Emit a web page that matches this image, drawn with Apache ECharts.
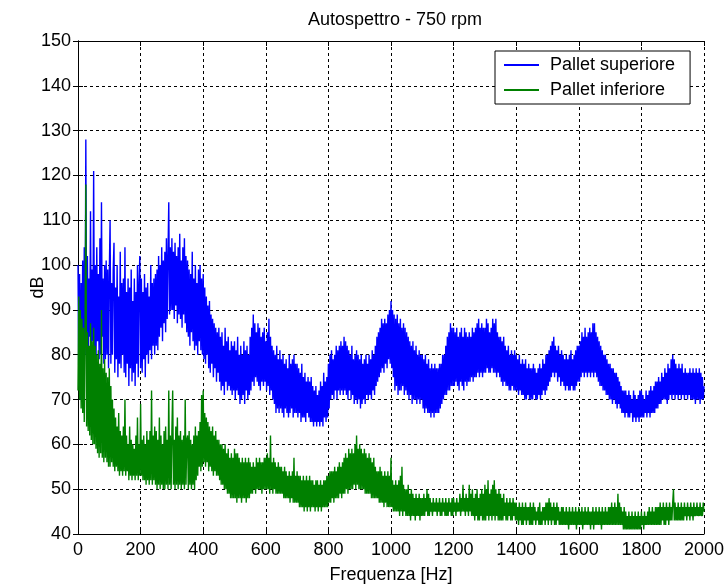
<!DOCTYPE html>
<html>
<head>
<meta charset="utf-8">
<script src="https://cdn.jsdelivr.net/npm/echarts@6/dist/echarts.min.js"></script>
<style>
  html, body { margin: 0; padding: 0; background: #fff; }
  #chart { width: 725px; height: 587px; }
</style>
</head>
<body>
<div id="chart"></div>
<script>
// Spectrum sampled every 2.5 Hz, 0..2000 Hz (one row = 50 Hz)
const freqStep = 2.5;

// Pallet superiore (dB)
const superiore = [
  100, 74, 98, 70, 96, 78, 101, 76, 104, 80, 128, 82, 102, 79, 97, 84, 112, 80, 99, 83,
  121, 81, 100, 78, 104, 83, 98, 79, 106, 80, 114, 84, 97, 78, 100, 79, 101, 80, 99, 77,
  98, 110, 78, 96, 80, 99, 105, 76, 95, 79, 100, 75, 93, 78, 103, 77, 96, 80, 97, 76,
  104, 75, 94, 78, 97, 73, 95, 77, 99, 74, 92, 76, 97, 73, 94, 78, 100, 75, 96, 102,
  77, 97, 76, 94, 79, 98, 75, 95, 80, 96, 78, 93, 81, 100, 79, 96, 82, 97, 80, 98,
  82, 99, 81, 102, 84, 100, 86, 104, 83, 101, 87, 103, 85, 106, 88, 102, 114, 89, 104, 90,
  106, 90, 103, 88, 105, 91, 102, 87, 104, 89, 107, 88, 101, 86, 104, 89, 106, 87, 102, 85,
  101, 84, 99, 82, 98, 85, 103, 83, 97, 81, 100, 82, 96, 80, 99, 83, 100, 81, 97, 80,
  98, 79, 95, 78, 93, 80, 91, 77, 92, 76, 89, 78, 88, 75, 87, 77, 86, 74, 85, 76,
  86, 74, 84, 72, 85, 73, 82, 71, 86, 74, 83, 72, 84, 73, 81, 72, 83, 71, 82, 72,
  83, 70, 81, 72, 84, 71, 80, 69, 82, 70, 80, 71, 83, 69, 81, 72, 82, 70, 80, 71,
  84, 72, 86, 74, 89, 73, 87, 75, 85, 74, 87, 73, 86, 72, 84, 74, 85, 73, 86, 74,
  83, 72, 85, 73, 88, 71, 84, 72, 82, 70, 81, 69, 80, 67, 82, 68, 79, 67, 81, 68,
  79, 67, 80, 66, 78, 68, 79, 67, 77, 66, 80, 67, 78, 68, 79, 66, 80, 67, 78, 67,
  78, 66, 77, 67, 76, 65, 78, 66, 75, 66, 76, 65, 74, 67, 75, 66, 74, 65, 75, 65,
  73, 64, 72, 65, 73, 64, 71, 65, 72, 64, 74, 65, 73, 64, 76, 66, 74, 65, 75, 66,
  78, 68, 80, 70, 81, 71, 79, 70, 80, 72, 82, 70, 81, 72, 82, 71, 83, 72, 82, 71,
  84, 72, 83, 71, 82, 70, 81, 72, 80, 70, 82, 71, 79, 69, 80, 70, 81, 69, 80, 70,
  79, 68, 80, 69, 78, 70, 79, 69, 80, 71, 78, 70, 80, 71, 79, 70, 81, 72, 80, 71,
  82, 73, 84, 74, 85, 75, 86, 76, 88, 77, 87, 76, 88, 78, 87, 77, 89, 79, 90, 78,
  92, 77, 90, 75, 89, 72, 88, 73, 89, 71, 87, 72, 88, 72, 86, 73, 87, 71, 86, 72,
  85, 71, 84, 70, 83, 71, 82, 69, 83, 70, 81, 70, 82, 69, 80, 70, 81, 69, 80, 70,
  80, 68, 79, 67, 80, 68, 78, 67, 79, 67, 77, 66, 78, 67, 77, 66, 78, 67, 77, 67,
  77, 67, 78, 68, 78, 69, 80, 70, 80, 71, 82, 71, 84, 72, 85, 72, 87, 73, 86, 73,
  86, 73, 85, 74, 86, 73, 84, 72, 85, 74, 86, 73, 84, 72, 86, 74, 85, 73, 84, 74,
  85, 74, 84, 75, 86, 74, 85, 75, 86, 75, 87, 76, 88, 75, 86, 76, 87, 75, 86, 76,
  86, 76, 88, 77, 87, 76, 85, 76, 86, 77, 88, 76, 87, 76, 88, 75, 85, 76, 84, 75,
  84, 74, 83, 73, 84, 74, 82, 73, 81, 73, 82, 72, 80, 72, 81, 73, 80, 72, 81, 72,
  80, 72, 79, 71, 80, 72, 78, 71, 79, 71, 78, 70, 79, 70, 77, 71, 78, 70, 77, 70,
  77, 70, 78, 71, 77, 70, 76, 70, 77, 71, 78, 70, 77, 71, 79, 72, 78, 71, 80, 72,
  80, 73, 81, 74, 82, 75, 83, 76, 84, 75, 82, 76, 81, 74, 82, 75, 80, 73, 81, 74,
  80, 73, 79, 72, 80, 73, 79, 72, 80, 72, 81, 73, 79, 72, 80, 72, 81, 73, 82, 74,
  82, 74, 83, 75, 85, 76, 84, 75, 86, 76, 84, 75, 85, 76, 86, 75, 85, 76, 87, 75,
  87, 76, 85, 75, 84, 74, 83, 73, 82, 73, 81, 72, 80, 72, 80, 71, 79, 71, 78, 70,
  78, 70, 77, 69, 77, 70, 76, 69, 76, 68, 75, 69, 74, 68, 73, 67, 72, 67, 72, 66,
  72, 67, 71, 66, 72, 66, 71, 67, 70, 65, 72, 66, 71, 65, 70, 66, 71, 65, 72, 66,
  72, 66, 71, 66, 70, 67, 72, 66, 71, 67, 72, 66, 73, 67, 72, 67, 73, 67, 74, 68,
  74, 68, 75, 69, 74, 69, 76, 70, 75, 70, 77, 70, 76, 69, 78, 70, 77, 71, 79, 70,
  80, 71, 79, 70, 78, 71, 77, 70, 78, 71, 77, 70, 78, 71, 76, 70, 77, 71, 76, 70,
  76, 71, 77, 70, 76, 70, 77, 70, 76, 69, 77, 70, 76, 70, 77, 69, 76, 70, 75, 70,
  73
];

// Pallet inferiore (dB)
const inferiore = [
  72, 93, 70, 90, 68, 88, 67, 86, 65, 84, 118, 64, 85, 63, 82, 62, 87, 61, 83, 60,
  86, 60, 82, 59, 80, 58, 81, 57, 78, 58, 90, 57, 77, 56, 79, 57, 76, 56, 75, 55,
  77, 55, 73, 56, 70, 55, 68, 54, 66, 55, 64, 54, 67, 53, 63, 54, 62, 53, 64, 54,
  70, 53, 62, 54, 60, 52, 64, 53, 61, 52, 60, 53, 59, 52, 62, 53, 66, 52, 60, 53,
  69, 53, 61, 52, 62, 52, 60, 51, 63, 52, 61, 51, 63, 52, 72, 51, 62, 52, 64, 51,
  63, 50, 61, 51, 66, 50, 62, 51, 60, 50, 63, 50, 64, 51, 61, 50, 72, 51, 62, 50,
  63, 72, 51, 61, 50, 64, 51, 66, 50, 62, 51, 63, 50, 61, 51, 62, 50, 70, 51, 61,
  62, 50, 63, 51, 61, 50, 60, 51, 62, 50, 64, 52, 62, 53, 63, 55, 65, 54, 71, 55,
  72, 56, 67, 55, 66, 56, 65, 54, 64, 55, 63, 54, 64, 53, 62, 54, 63, 53, 61, 53,
  61, 52, 60, 51, 60, 51, 59, 50, 60, 50, 58, 49, 59, 49, 57, 48, 58, 48, 57, 48,
  59, 48, 58, 47, 58, 48, 57, 48, 56, 47, 57, 48, 56, 48, 57, 47, 56, 48, 57, 48,
  56, 49, 55, 49, 56, 50, 55, 49, 57, 50, 56, 50, 57, 50, 56, 49, 56, 50, 57, 50,
  57, 50, 58, 50, 57, 49, 62, 50, 56, 49, 57, 50, 56, 49, 55, 49, 56, 49, 55, 49,
  55, 49, 54, 48, 55, 48, 54, 48, 53, 48, 54, 47, 53, 48, 54, 47, 57, 47, 53, 47,
  54, 47, 53, 46, 53, 46, 52, 46, 53, 45, 52, 46, 53, 45, 52, 46, 53, 45, 52, 46,
  52, 46, 51, 45, 52, 46, 52, 45, 51, 46, 52, 45, 51, 46, 52, 46, 52, 46, 53, 46,
  53, 47, 54, 47, 54, 48, 54, 47, 55, 48, 54, 48, 55, 48, 56, 49, 55, 48, 56, 49,
  57, 49, 58, 50, 57, 49, 59, 50, 58, 50, 59, 50, 58, 51, 60, 50, 62, 51, 59, 50,
  60, 50, 59, 50, 58, 50, 59, 49, 58, 49, 57, 49, 58, 49, 57, 48, 56, 48, 57, 48,
  55, 48, 54, 48, 54, 47, 55, 47, 54, 47, 53, 46, 54, 47, 53, 46, 54, 46, 53, 46,
  57, 46, 52, 45, 51, 45, 52, 45, 51, 45, 52, 44, 53, 45, 55, 44, 51, 45, 50, 44,
  50, 44, 51, 44, 49, 43, 50, 44, 49, 44, 48, 43, 49, 44, 48, 44, 49, 43, 48, 44,
  48, 44, 49, 44, 48, 45, 50, 44, 49, 44, 48, 45, 47, 44, 48, 45, 47, 45, 48, 44,
  47, 45, 48, 44, 47, 44, 48, 45, 47, 44, 48, 44, 47, 44, 48, 45, 47, 44, 48, 44,
  48, 45, 47, 44, 48, 45, 47, 45, 49, 44, 48, 45, 51, 45, 48, 44, 49, 45, 48, 44,
  51, 45, 49, 44, 50, 44, 48, 43, 49, 44, 50, 43, 48, 43, 49, 44, 50, 43, 49, 43,
  51, 43, 50, 44, 52, 43, 49, 44, 50, 43, 51, 44, 52, 43, 50, 44, 49, 43, 50, 43,
  49, 43, 48, 43, 49, 44, 47, 43, 48, 43, 47, 44, 48, 43, 47, 43, 48, 44, 47, 43,
  47, 43, 46, 42, 47, 43, 46, 42, 47, 42, 46, 43, 47, 42, 46, 43, 46, 42, 47, 42,
  46, 42, 47, 43, 46, 42, 45, 43, 46, 42, 47, 42, 45, 42, 46, 43, 46, 42, 47, 43,
  47, 42, 48, 43, 47, 42, 46, 43, 47, 42, 46, 42, 47, 43, 46, 42, 45, 42, 46, 42,
  46, 42, 45, 42, 46, 42, 45, 41, 46, 42, 45, 42, 46, 42, 45, 42, 46, 41, 45, 42,
  46, 42, 45, 42, 46, 41, 45, 42, 46, 42, 45, 42, 46, 42, 45, 41, 45, 42, 46, 41,
  45, 42, 46, 42, 45, 42, 46, 42, 45, 41, 46, 42, 45, 42, 46, 42, 45, 42, 46, 42,
  46, 42, 47, 42, 46, 42, 47, 42, 46, 42, 49, 42, 47, 42, 46, 42, 45, 41, 46, 41,
  45, 41, 44, 41, 45, 41, 44, 41, 45, 41, 44, 41, 45, 41, 44, 41, 45, 41, 44, 41,
  45, 42, 44, 41, 45, 42, 44, 42, 45, 42, 46, 42, 45, 42, 46, 42, 45, 42, 46, 42,
  46, 42, 46, 42, 47, 42, 46, 43, 47, 42, 46, 42, 47, 43, 46, 42, 47, 43, 46, 43,
  47, 50, 43, 47, 43, 46, 43, 47, 43, 46, 43, 47, 43, 46, 43, 47, 44, 46, 43, 47,
  44, 46, 43, 47, 44, 46, 43, 47, 44, 46, 44, 47, 44, 46, 44, 47, 44, 46, 44, 47,
  45
];

const seriesNames = ['Pallet superiore', 'Pallet inferiore'];
const seriesColors = ['#0000ff', '#008000'];
const xRange = [0, 2000, 200];
const yRange = [40, 150, 10];

const FONT = 'Liberation Sans, Arial, sans-serif';
const FS = 18;
const toPairs = arr => arr.map((v, i) => [i * freqStep, v]);

const axisCommon = {
  axisLine: { show: true, lineStyle: { color: '#000', width: 1 } },
  axisTick: { show: true, inside: true, length: 5, lineStyle: { color: '#000' } }
};

const chart = echarts.init(document.getElementById('chart'), null, { renderer: 'canvas' });
chart.setOption({
  animation: false,
  backgroundColor: '#fff',
  title: {
    text: 'Autospettro - 750 rpm',
    left: 390, top: 6, textAlign: 'center',
    textStyle: { fontFamily: FONT, fontSize: FS, fontWeight: 'normal', color: '#000' }
  },
  legend: {
    orient: 'vertical',
    left: 495, top: 51,
    padding: [5, 15, 5, 9],
    itemGap: 7,
    itemWidth: 35, itemHeight: 2,
    icon: 'rect',
    borderColor: '#000', borderWidth: 1,
    backgroundColor: '#fff',
    textStyle: { fontFamily: FONT, fontSize: FS, color: '#000', padding: [0, 0, 0, 6] },
    data: seriesNames
  },
  grid: { left: 78, right: 21, top: 41, bottom: 53, outerBoundsMode: 'none', containLabel: false },
  xAxis: [
    Object.assign({
      type: 'value', min: xRange[0], max: xRange[1], interval: xRange[2],
      position: 'bottom',
      axisLabel: { color: '#000', fontFamily: FONT, fontSize: FS, margin: 7, formatter: v => String(v) },
      splitLine: { show: true, lineStyle: { color: '#000', type: [3, 3], width: 1 } },
      name: 'Frequenza [Hz]', nameLocation: 'middle', nameGap: 32, nameMoveOverlap: false,
      nameTextStyle: { color: '#000', fontFamily: FONT, fontSize: FS }
    }, axisCommon),
    Object.assign({
      type: 'value', min: xRange[0], max: xRange[1], interval: xRange[2],
      position: 'top', axisLabel: { show: false }, splitLine: { show: false }
    }, axisCommon)
  ],
  yAxis: [
    Object.assign({
      type: 'value', min: yRange[0], max: yRange[1], interval: yRange[2],
      position: 'left',
      axisLabel: { color: '#000', fontFamily: FONT, fontSize: FS, margin: 7 },
      splitLine: { show: true, lineStyle: { color: '#000', type: [3, 3], width: 1 } },
      name: 'dB', nameLocation: 'middle', nameGap: 31, nameMoveOverlap: false,
      nameTextStyle: { color: '#000', fontFamily: FONT, fontSize: FS }
    }, axisCommon),
    Object.assign({
      type: 'value', min: yRange[0], max: yRange[1], interval: yRange[2],
      position: 'right', axisLabel: { show: false }, splitLine: { show: false }
    }, axisCommon)
  ],
  series: [
    {
      name: seriesNames[0], type: 'line', xAxisIndex: 0, yAxisIndex: 0,
      data: toPairs(superiore), symbol: 'none', color: seriesColors[0],
      lineStyle: { width: 1.4, color: seriesColors[0], join: 'bevel' }, z: 3
    },
    {
      name: seriesNames[1], type: 'line', xAxisIndex: 0, yAxisIndex: 0,
      data: toPairs(inferiore), symbol: 'none', color: seriesColors[1],
      lineStyle: { width: 1.4, color: seriesColors[1], join: 'bevel' }, z: 4
    }
  ]
});
</script>
</body>
</html>
